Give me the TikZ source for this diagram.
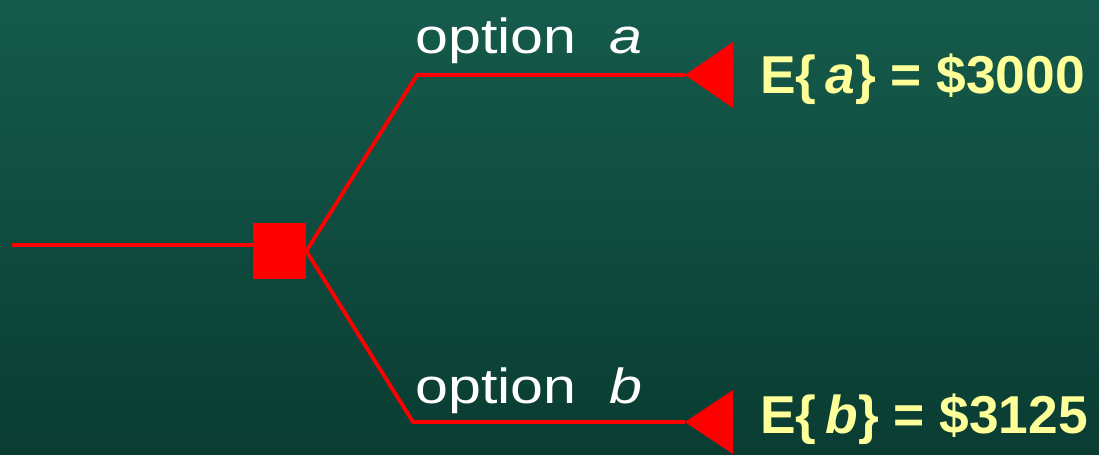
\documentclass[tikz,border=0pt]{standalone}
\usepackage{fontspec}
\setmainfont{Liberation Sans}
\usepackage{tikz}

\definecolor{bgtop}{RGB}{21,91,76}
\definecolor{bgbottom}{RGB}{10,60,50}
\definecolor{payoff}{RGB}{255,255,153}

\tikzset{
    branch/.style={draw=red, line width=2.9pt},
    decision/.style={fill=red, inner sep=0pt, minimum width=39.75pt, minimum height=42pt},
    optlabel/.style={text=white, anchor=base west, inner sep=0pt, font=\fontsize{37}{40}\selectfont},
    evlabel/.style={text=payoff, anchor=base west, inner sep=0pt, font=\fontsize{40}{44}\selectfont\bfseries}
}
\newcommand{\widetext}[1]{\scalebox{1.2}[1]{#1}}

\begin{document}
\begin{tikzpicture}[x=0.75pt, y=-0.75pt]
    \shade [top color=bgtop, bottom color=bgbottom] (0, 0) rectangle (1099, 454);
    \useasboundingbox (0, 0) rectangle (1099, 454);
    \coordinate (start) at (12, 245); % incoming branch
    \node [decision] (choice) at (279.5, 251) {};
    % option a
    \coordinate (kneea) at (417, 75);
    \coordinate (tipa) at (685, 75);
    \draw [branch] (start) to (start -| choice.west);
    \draw [branch, line join=miter] (choice.east) -- (kneea) -- (tipa);
    \fill [red] (tipa) -- ++(48, -33) -- ++(0, 66) -- cycle;
    \node [optlabel] (labela) at (415, 53) {\widetext{option\ \ \itshape a}};
    \node [evlabel] (eva) at (760, 93) {E\{\,\itshape a\upshape\} = \$3000};
    % option b
    \coordinate (kneeb) at (413, 422);
    \coordinate (tipb) at (685, 422);
    \draw [branch, line join=miter] (choice.east) -- (kneeb) -- (tipb);
    \fill [red] (tipb) -- ++(48, -32) -- ++(0, 64) -- cycle;
    \node [optlabel] (labelb) at (415, 403) {\widetext{option\ \ \itshape b}};
    \node [evlabel] (evb) at (760, 433) {E\{\,\itshape b\upshape\} = \$3125};
\end{tikzpicture}
\end{document}
